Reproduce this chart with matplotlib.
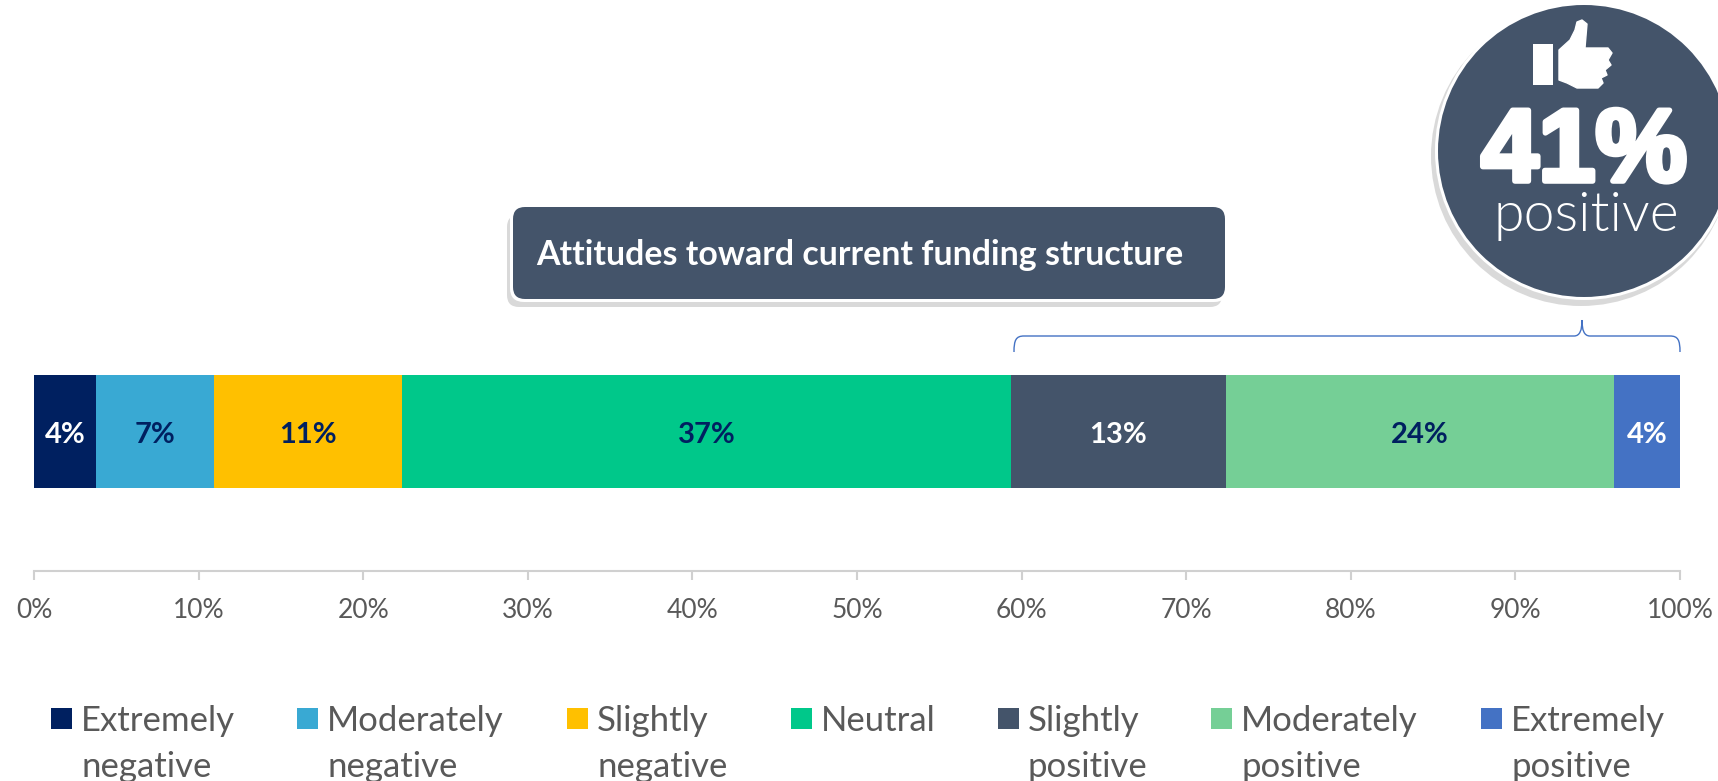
import matplotlib
matplotlib.use("Agg")
import matplotlib.pyplot as plt
import matplotlib.patheffects as pe
from matplotlib.patches import Circle, FancyBboxPatch, PathPatch, Polygon, Rectangle
from matplotlib.path import Path

plt.rcParams['font.family'] = ['Lato', 'DejaVu Sans']

# Data
categories = ["Extremely\nnegative", "Moderately\nnegative", "Slightly\nnegative", "Neutral",
              "Slightly\npositive", "Moderately\npositive", "Extremely\npositive"]
values = [3.75, 7.2, 11.4, 37.0, 13.05, 23.6, 4.0]
value_labels = ["4%", "7%", "11%", "37%", "13%", "24%", "4%"]
colors = ["#002060", "#39A9D3", "#FFC000", "#00C88A", "#44546A", "#75CF96", "#4472C4"]
label_colors = ["white", "#002060", "#002060", "#002060", "white", "#002060", "white"]
ticks = [0, 10, 20, 30, 40, 50, 60, 70, 80, 90, 100]
tick_labels = ["0%", "10%", "20%", "30%", "40%", "50%", "60%", "70%", "80%", "90%", "100%"]
title = "Attitudes toward current funding structure"
callout_value = "41%"
callout_text = "positive"

W, H = 1718, 781
NAVY = "#44546A"
GREY = "#595959"

fig = plt.figure(figsize=(W / 100, H / 100), dpi=100, facecolor="white")

# main axes: 0-100% runs from x=34 to x=1680, axis line at y=571
ax = fig.add_axes([34 / W, 1 - 571 / H, 1646 / W, 231 / H])
left = 0
for v, c, lab, lc in zip(values, colors, value_labels, label_colors):
    ax.barh(0, v, left=left, height=1, color=c, linewidth=0)
    ax.text(left + v / 2, -0.03, lab, color=lc, fontsize=21, fontweight="bold", ha="center", va="center")
    left += v
ax.set_xlim(0, 100)
ax.set_ylim(-0.5 - 83 / 113, 0.5 + 35 / 113)
ax.set_xticks(ticks)
ax.set_xticklabels(tick_labels)
ax.set_yticks([])
ax.tick_params(axis="x", length=6.5, width=1.5, color="#D0D0D0", labelcolor=GREY, labelsize=19, pad=13)
for s in ["top", "left", "right"]:
    ax.spines[s].set_visible(False)
ax.spines["bottom"].set_color("#D0D0D0")
ax.spines["bottom"].set_linewidth(1.5)
ax.patch.set_alpha(0)

# overlay in pixel coordinates for the callouts, bracket and legend
ov = fig.add_axes([0, 0, 1, 1], zorder=5)
ov.set_xlim(0, W)
ov.set_ylim(H, 0)
ov.axis("off")

# title box
ov.add_patch(FancyBboxPatch((507, 215), 715, 92, boxstyle="round,pad=0,rounding_size=12", fc="#D9D9D9", ec="none"))
ov.add_patch(FancyBboxPatch((510, 204), 718, 98, boxstyle="round,pad=0,rounding_size=14", fc="white", ec="none"))
ov.add_patch(FancyBboxPatch((513, 207), 712, 92, boxstyle="round,pad=0,rounding_size=12", fc=NAVY, ec="none"))
ov.text(536, 265, title, color="white", fontsize=24.4, fontweight="bold", ha="left", va="baseline")

# bracket over the positive segments
bracket = Path([(1014, 352), (1014, 340), (1016, 336), (1024, 336),
                (1574, 336), (1580, 336), (1582, 330), (1582, 320),
                (1582, 330), (1584, 336), (1590, 336),
                (1670, 336), (1678, 336), (1680, 340), (1680, 352)],
               [Path.MOVETO, Path.CURVE4, Path.CURVE4, Path.CURVE4,
                Path.LINETO, Path.CURVE4, Path.CURVE4, Path.CURVE4,
                Path.CURVE4, Path.CURVE4, Path.CURVE4,
                Path.LINETO, Path.CURVE4, Path.CURVE4, Path.CURVE4])
ov.add_patch(PathPatch(bracket, fc="none", ec="#4472C4", lw=1))

# round callout with thumb
ov.add_patch(Circle((1581, 156), 150, fc="#D9D9D9", ec="none"))
ov.add_patch(Circle((1584, 151), 149, fc="white", ec="none"))
ov.add_patch(Circle((1584, 151), 146, fc=NAVY, ec="none"))
ov.add_patch(Rectangle((1533, 44), 20, 41, fc="white", ec="none"))
thumb = [(1559, 80), (1559, 50), (1570, 40), (1575, 30), (1577, 22), (1582, 20), (1587, 24),
         (1585, 48), (1608, 48), (1612, 53), (1608, 60), (1611, 65), (1605, 70), (1607, 75),
         (1601, 78), (1603, 83), (1598, 88), (1577, 88), (1567, 83)]
ov.add_patch(Polygon(thumb, closed=True, fc="white", ec="white", lw=1, joinstyle="round"))
ov.text(1584, 181, callout_value, color="white", fontsize=74, fontweight="bold", family="Liberation Sans",
        ha="center", va="baseline", path_effects=[pe.withStroke(linewidth=4, foreground="white")])
ov.text(1586, 231, callout_text, color="white", fontsize=40, fontweight=300, ha="center", va="baseline")

# legend
swatch_x = [51, 297, 567, 791, 998, 1211, 1481]
text_x = [81, 327, 597, 821, 1028, 1241, 1511]
for sx, tx, c, name in zip(swatch_x, text_x, colors, categories):
    ov.add_patch(Rectangle((sx, 708), 21, 21, fc=c, ec="none"))
    lines = name.split("\n")
    ov.text(tx, 731, lines[0], color=GREY, fontsize=25, ha="left", va="baseline")
    if len(lines) > 1:
        ov.text(tx, 777, lines[1], color=GREY, fontsize=25, ha="left", va="baseline")

fig.savefig("out.png", dpi=100)
